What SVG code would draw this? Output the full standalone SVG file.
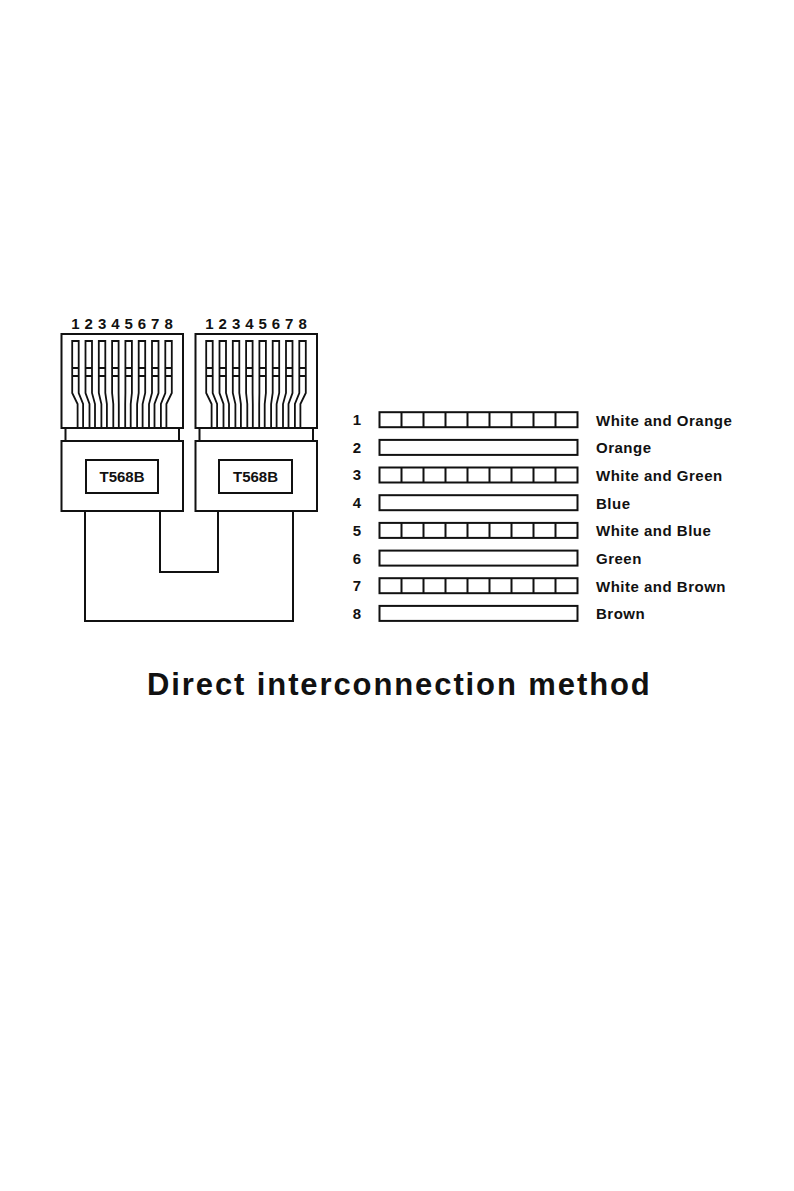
<svg xmlns="http://www.w3.org/2000/svg" xmlns:xlink="http://www.w3.org/1999/xlink" width="794" height="1191" viewBox="0 0 794 1191">
<style>
.ln{fill:none;stroke:#111;stroke-width:2}
.pin{fill:none;stroke:#111;stroke-width:1.8;stroke-linejoin:miter}
.box{fill:#fff;stroke:#111;stroke-width:2}
.t{font-family:"Liberation Sans",Arial,sans-serif;font-weight:bold;fill:#111}
.pn{font-size:15px;text-anchor:middle}
.lab{font-size:15px;letter-spacing:0.5px}
.num{font-size:15px;text-anchor:middle}
.std{font-size:15px;text-anchor:middle}
</style>
<defs>
<g id="pins">
<path class="pin" d="M77.6,428V404L72.2,393V341H78.7V393L83.1,404V428M72.2,368H78.7M72.2,376H78.7"/>
<path class="pin" d="M89.5,428V404L85.5,393V341H92V393L95,404V428M85.5,368H92M85.5,376H92"/>
<path class="pin" d="M101.4,428V404L98.8,393V341H105.3V393L106.9,404V428M98.8,368H105.3M98.8,376H105.3"/>
<path class="pin" d="M113.3,428V404L112.1,393V341H118.6V393L118.8,404V428M112.1,368H118.6M112.1,376H118.6"/>
<path class="pin" d="M125.2,428V404L125.4,393V341H131.9V393L130.7,404V428M125.4,368H131.9M125.4,376H131.9"/>
<path class="pin" d="M137.1,428V404L138.7,393V341H145.2V393L142.6,404V428M138.7,368H145.2M138.7,376H145.2"/>
<path class="pin" d="M149,428V404L152,393V341H158.5V393L154.5,404V428M152,368H158.5M152,376H158.5"/>
<path class="pin" d="M160.9,428V404L165.3,393V341H171.8V393L166.4,404V428M165.3,368H171.8M165.3,376H171.8"/>
</g>
<g id="nums">
<text class="t pn" x="75.45" y="328.5">1</text>
<text class="t pn" x="88.75" y="328.5">2</text>
<text class="t pn" x="102.05" y="328.5">3</text>
<text class="t pn" x="115.35" y="328.5">4</text>
<text class="t pn" x="128.65" y="328.5">5</text>
<text class="t pn" x="141.95" y="328.5">6</text>
<text class="t pn" x="155.25" y="328.5">7</text>
<text class="t pn" x="168.55" y="328.5">8</text>
</g>
<g id="stripes">
<path class="ln" d="M401.5,0v15M423.5,0v15M445.5,0v15M467.5,0v15M489.5,0v15M511.5,0v15M533.5,0v15M555.5,0v15"/>
</g>
</defs>
<rect width="794" height="1191" fill="#fff"/>

<g id="connectors">
<path class="ln" d="M85,511V621H293V511"/>
<path class="ln" d="M160,511V572H218V511"/>
</g>

<g id="plug-left">
<use xlink:href="#nums"/>
<rect class="box" x="61.5" y="334" width="121.5" height="94"/>
<use xlink:href="#pins"/>
<rect class="box" x="65.5" y="428" width="113.5" height="13"/>
<rect class="box" x="61.5" y="441" width="121.5" height="70"/>
<rect class="box" x="86" y="460" width="72" height="33"/>
<text class="t std" x="122" y="482">T568B</text>
</g>

<g id="plug-right" transform="translate(134,0)">
<use xlink:href="#nums"/>
<rect class="box" x="61.5" y="334" width="121.5" height="94"/>
<use xlink:href="#pins"/>
<rect class="box" x="65.5" y="428" width="113.5" height="13"/>
<rect class="box" x="61.5" y="441" width="121.5" height="70"/>
<rect class="box" x="85" y="460" width="73" height="33"/>
<text class="t std" x="121.5" y="482">T568B</text>
</g>

<g id="legend">
<g id="row1">
<text class="t num" x="357" y="425">1</text>
<rect class="box" x="379.5" y="412.2" width="198" height="15"/>
<use xlink:href="#stripes" transform="translate(0,412.2)"/>
<text class="t lab" x="596" y="425.5">White and Orange</text>
</g>
<g id="row2">
<text class="t num" x="357" y="452.7">2</text>
<rect class="box" x="379.5" y="439.9" width="198" height="15"/>
<text class="t lab" x="596" y="453.2">Orange</text>
</g>
<g id="row3">
<text class="t num" x="357" y="480.4">3</text>
<rect class="box" x="379.5" y="467.5" width="198" height="15"/>
<use xlink:href="#stripes" transform="translate(0,467.5)"/>
<text class="t lab" x="596" y="480.9">White and Green</text>
</g>
<g id="row4">
<text class="t num" x="357" y="508.1">4</text>
<rect class="box" x="379.5" y="495.2" width="198" height="15"/>
<text class="t lab" x="596" y="508.6">Blue</text>
</g>
<g id="row5">
<text class="t num" x="357" y="535.8">5</text>
<rect class="box" x="379.5" y="522.9" width="198" height="15"/>
<use xlink:href="#stripes" transform="translate(0,522.9)"/>
<text class="t lab" x="596" y="536.3">White and Blue</text>
</g>
<g id="row6">
<text class="t num" x="357" y="563.5">6</text>
<rect class="box" x="379.5" y="550.6" width="198" height="15"/>
<text class="t lab" x="596" y="564">Green</text>
</g>
<g id="row7">
<text class="t num" x="357" y="591.1">7</text>
<rect class="box" x="379.5" y="578.2" width="198" height="15"/>
<use xlink:href="#stripes" transform="translate(0,578.2)"/>
<text class="t lab" x="596" y="591.6">White and Brown</text>
</g>
<g id="row8">
<text class="t num" x="357" y="618.8">8</text>
<rect class="box" x="379.5" y="605.9" width="198" height="15"/>
<text class="t lab" x="596" y="619.3">Brown</text>
</g>
</g>

<text id="title" class="t" x="147" y="694.5" font-size="31" letter-spacing="1.9">Direct interconnection method</text>
</svg>
